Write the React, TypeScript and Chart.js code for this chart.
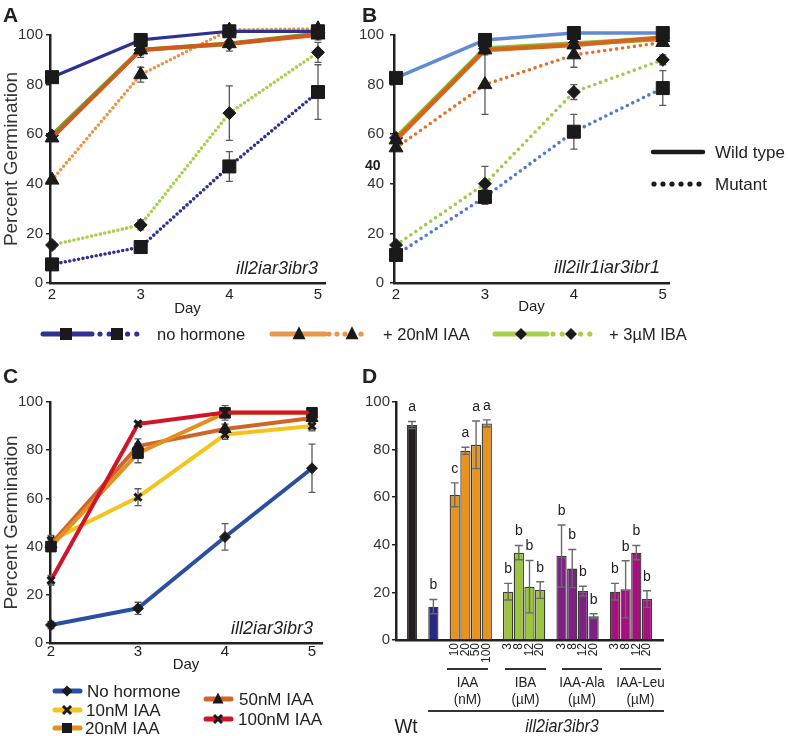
import React, { useEffect, useRef } from 'react';
import { Chart, registerables } from 'chart.js';

Chart.register(...registerables);

const FONT = '"Liberation Sans", Arial, Helvetica, sans-serif';
const INK = '#222';

// ---------- shared ----------
const days = [2, 3, 4, 5];
const dayTicks = [2, 3, 4, 5];
const pctTicks = [0, 20, 40, 60, 80, 100];

// ---------- Panel A : ill2iar3ibr3 ----------
const aNoHormWT = [83, 98, 101.5, 101.5];
const aNoHormMut = [7.5, 14.5, 47, 77];
const aIaaWT = [58.5, 94, 96.5, 100];
const aIaaMut = [41.5, 84, 102, 102.5];
const aIbaWT = [59.5, 94, 96.5, 100.5];
const aIbaMut = [15.3, 23.4, 68.5, 93];
const aNoHormWTErr = [0, 2.5, 0, 0];
const aNoHormMutErr = [1, 2.5, 6, 11];
const aIaaWTErr = [0, 2, 3, 2];
const aIaaMutErr = [0, 3, 0, 0];
const aIbaWTErr = [0, 3, 0, 0];
const aIbaMutErr = [1.5, 2, 11, 4];

// ---------- Panel B : ill2ilr1iar3ibr1 ----------
const bNoHormWT = [82.7, 98, 100.8, 100.8];
const bNoHormMut = [11.3, 34.7, 61, 78.6];
const bIaaWT = [57.7, 94, 96, 99];
const bIaaMut = [54.5, 80, 92, 97];
const bIbaWT = [58.5, 94.5, 96.5, 98.5];
const bIbaMut = [15.3, 40, 77, 90];
const bNoHormWTErr = [0, 1, 0, 0];
const bNoHormMutErr = [0, 3, 7, 7];
const bIaaWTErr = [0, 1, 1.5, 0];
const bIaaMutErr = [0, 12, 5, 1];
const bIbaWTErr = [0, 0, 0, 0];
const bIbaMutErr = [0, 7, 3, 2];

// ---------- Panel C : IAA doses ----------
const cNoHorm = [7.5, 14.4, 44, 72.5];
const c10nM = [42.6, 60.5, 86.5, 90];
const c20nM = [40, 78.8, 95.5, 95.5];
const c50nM = [41, 81.7, 88.8, 93.4];
const c100nM = [26, 90.9, 95.6, 95.6];
const cNoHormErr = [1.5, 2.5, 5.5, 10];
const c10nMErr = [2, 3.5, 2, 2];
const c20nMErr = [2, 4, 3, 1.5];
const c50nMErr = [2, 3, 2, 2];
const c100nMErr = [2, 1, 1, 1];

// ---------- Panel D : bars ----------
const wtValue = 90.3;
const wtErr = 1.5;
const wtLetter = 'a';
const noHormValue = 14;
const noHormErr = 3;
const noHormLetter = 'b';
const iaaDoses = ['10', '20', '50', '100'];
const iaaValues = [61, 79.5, 82, 91];
const iaaErrs = [5, 1.5, 10, 1.5];
const iaaLetters = ['c', 'a', 'a', 'a'];
const ibaDoses = ['3', '8', '12', '20'];
const ibaValues = [20.3, 36.7, 22.4, 21];
const ibaErrs = [3.5, 3, 11, 3.5];
const ibaLetters = ['b', 'b', 'b', 'b'];
const alaDoses = ['3', '8', '12', '20'];
const alaValues = [35.3, 30, 20.6, 10];
const alaErrs = [13, 8, 2, 1];
const alaLetters = ['b', 'b', 'b', 'b'];
const leuDoses = ['3', '8', '12', '20'];
const leuValues = [20.3, 21.3, 36.7, 17.2];
const leuErrs = [3.5, 12, 3, 3.5];
const leuLetters = ['b', 'b', 'b', 'b'];

// ---------- colours ----------
const navy = '#2e3192';
const aOrangeWT = '#d4581c';
const aOrangeMut = '#e8974a';
const aGreenWT = '#6e9e34';
const aGreenMut = '#a9d04c';
const bBlueWT = '#5f8bd4';
const bBlueMut = '#4f7ad0';
const bOrangeWT = '#d4661c';
const bOrangeMut = '#e0702a';
const bGreenWT = '#8dbb3c';
const bGreenMut = '#9ccc4a';
const cBlue = '#2a4ea3';
const cYellow = '#f3c51c';
const cOrange = '#e3901f';
const cDarkOrange = '#d0652a';
const cRed = '#d0152b';
const dBlack = '#231f20';
const dBlue = '#28287f';
const dOrange = '#e8941c';
const dGreen = '#9cc43e';
const dPurple = '#7b2282';
const dMagenta = '#a4117d';

// ---------- plugin: error bars + letters ----------
function drawErrors(chart: any, opts: any) {
  const ctx = chart.ctx;
  const yScale = chart.scales.y;
  chart.data.datasets.forEach((ds: any, i: number) => {
    const meta = chart.getDatasetMeta(i);
    const errs = ds.errors;
    if (!errs) return;
    meta.data.forEach((el: any, j: number) => {
      const parsed: any = meta.controller.getParsed(j);
      const v = parsed ? parsed.y : null;
      if (v == null || isNaN(v)) return;
      const e = errs[j] || 0;
      const x = el.x;
      const top = yScale.getPixelForValue(v + e);
      const bot = yScale.getPixelForValue(v - e);
      if (e > 0) {
        ctx.save();
        ctx.strokeStyle = opts.color;
        ctx.lineWidth = opts.width;
        ctx.beginPath();
        ctx.moveTo(x, top);
        ctx.lineTo(x, bot);
        ctx.moveTo(x - opts.cap, top);
        ctx.lineTo(x + opts.cap, top);
        ctx.moveTo(x - opts.cap, bot);
        ctx.lineTo(x + opts.cap, bot);
        ctx.stroke();
        ctx.restore();
      }
      if (ds.letters && ds.letters[j]) {
        ctx.save();
        ctx.fillStyle = INK;
        ctx.font = `14px ${FONT}`;
        ctx.textAlign = 'center';
        ctx.textBaseline = 'middle';
        ctx.fillText(ds.letters[j], x, top - 14);
        ctx.restore();
      }
    });
  });
}

const errorBarPlugin = {
  id: 'errorBars',
  beforeDatasetsDraw(chart: any, _a: any, opts: any) {
    if (!opts.onTop) drawErrors(chart, opts);
  },
  afterDatasetsDraw(chart: any, _a: any, opts: any) {
    if (opts.onTop) drawErrors(chart, opts);
  },
};

// ---------- helpers ----------
function series(values: number[], errors: number[], color: string, width: number, dash: number[], pointStyle: string, radius: number, pointBorderWidth = 1) {
  return {
    data: days.map((d, i) => ({ x: d, y: values[i] })),
    errors,
    borderColor: color,
    backgroundColor: color,
    borderWidth: width,
    borderDash: dash,
    borderCapStyle: dash.length ? 'round' : 'butt',
    borderJoinStyle: 'round',
    pointStyle,
    pointRadius: radius,
    pointBackgroundColor: '#1a1a1a',
    pointBorderColor: '#1a1a1a',
    pointBorderWidth,
    tension: 0,
    fill: false,
    clip: false,
  };
}

function lineOptions(p: { xMin: number; xMax: number; padTop: number; padRight: number; xAxisH: number; xTickPad: number; dayPadBottom: number; yTickPad: number; yTitle: boolean }) {
  const tickFont = { family: FONT, size: 15 };
  return {
    responsive: false,
    animation: false,
    devicePixelRatio: 1,
    layout: { padding: { top: p.padTop, right: p.padRight, left: 0, bottom: 0 } },
    plugins: {
      legend: { display: false },
      tooltip: { enabled: false },
      errorBars: { color: '#5a5a5a', width: 1.3, cap: 3.5, onTop: false },
    },
    scales: {
      x: {
        type: 'linear',
        min: p.xMin,
        max: p.xMax,
        afterBuildTicks: (s: any) => {
          s.ticks = dayTicks.map((v) => ({ value: v }));
        },
        afterFit: (s: any) => {
          s.height = p.xAxisH;
        },
        ticks: { font: tickFont, color: INK, padding: p.xTickPad },
        grid: { display: false, drawTicks: false },
        border: { display: true, color: INK, width: 2.5 },
        title: { display: true, text: 'Day', font: { family: FONT, size: 15 }, color: INK, padding: { top: 0, bottom: p.dayPadBottom } },
      },
      y: {
        min: 0,
        max: 100,
        afterBuildTicks: (s: any) => {
          s.ticks = pctTicks.map((v) => ({ value: v }));
        },
        afterFit: (s: any) => {
          s.width = 50;
        },
        ticks: { font: tickFont, color: '#333', padding: p.yTickPad },
        grid: { display: true, drawOnChartArea: false, drawTicks: true, tickLength: 4, color: INK, lineWidth: 1.5 },
        border: { display: true, color: INK, width: 2.5 },
        title: { display: p.yTitle, text: 'Percent Germination', font: { family: FONT, size: 19 }, color: '#333', padding: 0 },
      },
    },
  };
}

function ChartBox({ left, top, width, height, make }: { left: number; top: number; width: number; height: number; make: () => any }) {
  const ref = useRef<HTMLCanvasElement>(null);
  useEffect(() => {
    const chart = new Chart(ref.current as HTMLCanvasElement, make());
    return () => chart.destroy();
  }, []);
  return (
    <div style={{ position: 'absolute', left, top, width, height }}>
      <canvas ref={ref} width={width} height={height} style={{ display: 'block', width, height }} />
    </div>
  );
}

// ---------- chart configs ----------
const dotA = [0, 4.5];
const dotB = [0, 6];

function makeA() {
  return {
    type: 'line',
    data: {
      datasets: [
        series(aNoHormWT, aNoHormWTErr, navy, 3.2, [], 'rect', 9.2),
        series(aNoHormMut, aNoHormMutErr, navy, 3.6, dotA, 'rect', 9.2),
        series(aIaaWT, aIaaWTErr, aOrangeWT, 4, [], 'triangle', 8),
        series(aIbaWT, aIbaWTErr, aGreenWT, 4.5, [], 'rectRot', 6.5),
        series(aIaaMut, aIaaMutErr, aOrangeMut, 3.6, dotA, 'triangle', 8),
        series(aIbaMut, aIbaMutErr, aGreenMut, 3.6, dotA, 'rectRot', 6.5),
      ],
    },
    options: lineOptions({ xMin: 1.977, xMax: 5.079, padTop: 15, padRight: 15, xAxisH: 42, xTickPad: 3, dayPadBottom: 7, yTickPad: 3, yTitle: true }),
    plugins: [errorBarPlugin],
  };
}

function makeB() {
  return {
    type: 'line',
    data: {
      datasets: [
        series(bNoHormWT, bNoHormWTErr, bBlueWT, 3.5, [], 'rect', 9.2),
        series(bIaaWT, bIaaWTErr, bOrangeWT, 4.5, [], 'triangle', 8),
        series(bIbaWT, bIbaWTErr, bGreenWT, 5, [], 'rectRot', 6.5),
        series(bNoHormMut, bNoHormMutErr, bBlueMut, 3.6, dotB, 'rect', 9.2),
        series(bIaaMut, bIaaMutErr, bOrangeMut, 3.6, dotB, 'triangle', 8),
        series(bIbaMut, bIbaMutErr, bGreenMut, 3.6, dotB, 'rectRot', 6.5),
      ],
    },
    options: lineOptions({ xMin: 1.977, xMax: 5.07, padTop: 15, padRight: 15, xAxisH: 42, xTickPad: 3, dayPadBottom: 9, yTickPad: 6, yTitle: false }),
    plugins: [errorBarPlugin],
  };
}

function makeC() {
  return {
    type: 'line',
    data: {
      datasets: [
        series(c100nM, c100nMErr, cRed, 4, [], 'crossRot', 5, 3),
        series(c20nM, c20nMErr, cOrange, 4, [], 'rect', 7.5),
        series(c50nM, c50nMErr, cDarkOrange, 4, [], 'triangle', 7),
        series(c10nM, c10nMErr, cYellow, 4, [], 'crossRot', 5, 3),
        series(cNoHorm, cNoHormErr, cBlue, 4, [], 'rectRot', 5.5),
      ],
    },
    options: lineOptions({ xMin: 1.9885, xMax: 5.115, padTop: 17, padRight: 18, xAxisH: 42, xTickPad: 0, dayPadBottom: 11, yTickPad: 3, yTitle: true }),
    plugins: [errorBarPlugin],
  };
}

function makeD() {
  const g: any = null;
  const labels = ['', '', '', '', '', ...iaaDoses, '', ...ibaDoses, '', ...alaDoses, '', ...leuDoses, ''];
  const values = [g, wtValue, g, noHormValue, g, ...iaaValues, g, ...ibaValues, g, ...alaValues, g, ...leuValues, g];
  const errs = [0, wtErr, 0, noHormErr, 0, ...iaaErrs, 0, ...ibaErrs, 0, ...alaErrs, 0, ...leuErrs, 0];
  const letters = ['', wtLetter, '', noHormLetter, '', ...iaaLetters, '', ...ibaLetters, '', ...alaLetters, '', ...leuLetters, ''];
  const rep = (c: string) => [c, c, c, c];
  const colors = ['#fff', dBlack, '#fff', dBlue, '#fff', ...rep(dOrange), '#fff', ...rep(dGreen), '#fff', ...rep(dPurple), '#fff', ...rep(dMagenta), '#fff'];
  return {
    type: 'bar',
    data: {
      labels,
      datasets: [
        {
          data: values,
          errors: errs,
          letters,
          backgroundColor: colors,
          borderColor: '#3a3a3a',
          borderWidth: 1.3,
          barPercentage: 0.96,
          categoryPercentage: 1,
        },
      ],
    },
    options: {
      responsive: false,
      animation: false,
      devicePixelRatio: 1,
      layout: { padding: { top: 17, right: 13, left: 0, bottom: 0 } },
      plugins: {
        legend: { display: false },
        tooltip: { enabled: false },
        errorBars: { color: '#6a6a6a', width: 1.4, cap: 4, onTop: true },
      },
      scales: {
        x: {
          afterFit: (s: any) => {
            s.height = 96;
          },
          ticks: { font: { family: FONT, size: 12 }, color: INK, padding: 3, minRotation: 90, maxRotation: 90, autoSkip: false },
          grid: { display: false, drawTicks: false },
          border: { display: true, color: INK, width: 2.5 },
        },
        y: {
          min: 0,
          max: 100,
          afterBuildTicks: (s: any) => {
            s.ticks = pctTicks.map((v) => ({ value: v }));
          },
          afterFit: (s: any) => {
            s.width = 50;
          },
          ticks: { font: { family: FONT, size: 15 }, color: '#333', padding: 2 },
          grid: { display: true, drawOnChartArea: false, drawTicks: true, tickLength: 4, color: INK, lineWidth: 1.5 },
          border: { display: true, color: INK, width: 2.5 },
        },
      },
    },
    plugins: [errorBarPlugin],
  };
}

// ---------- overlay text / legend ----------
function T({ x, y, size = 16, anchor = 'start', weight = 'normal', italic = false, sx = 1, color = INK, children }: any) {
  return (
    <text
      transform={`translate(${x} ${y}) scale(${sx} 1)`}
      fontSize={size}
      fontFamily={FONT}
      fontWeight={weight}
      fontStyle={italic ? 'italic' : 'normal'}
      textAnchor={anchor}
      dominantBaseline="central"
      fill={color}
    >
      {children}
    </text>
  );
}

function Sq({ x, y, s = 12 }: any) {
  return <rect x={x - s / 2} y={y - s / 2} width={s} height={s} fill="#1a1a1a" />;
}
function Tri({ x, y, s = 13 }: any) {
  return <polygon points={`${x},${y - s * 0.6} ${x - s / 2},${y + s * 0.4} ${x + s / 2},${y + s * 0.4}`} fill="#1a1a1a" />;
}
function Dia({ x, y, s = 6 }: any) {
  return <polygon points={`${x},${y - s} ${x + s},${y} ${x},${y + s} ${x - s},${y}`} fill="#1a1a1a" />;
}
function Xm({ x, y, s = 4.5 }: any) {
  return (
    <g stroke="#1a1a1a" strokeWidth={3}>
      <line x1={x - s} y1={y - s} x2={x + s} y2={y + s} />
      <line x1={x - s} y1={y + s} x2={x + s} y2={y - s} />
    </g>
  );
}

function Dots({ x1, x2, y, color, r = 2.6, step = 8.5 }: any) {
  return <line x1={x1} y1={y} x2={x2} y2={y} stroke={color} strokeWidth={r * 2} strokeLinecap="round" strokeDasharray={`0 ${step}`} />;
}

function Overlay() {
  const ly = 334;
  return (
    <svg width={788} height={736} style={{ position: 'absolute', left: 0, top: 0, pointerEvents: 'none' }}>
      {/* panel letters */}
      <T x={3} y={14} size={21} weight="bold">A</T>
      <T x={362} y={14} size={21} weight="bold">B</T>
      <T x={3} y={375} size={21} weight="bold">C</T>
      <T x={362} y={375} size={21} weight="bold">D</T>

      {/* genotype labels */}
      <T x={318} y={268} size={18} italic anchor="end">ill2iar3ibr3</T>
      <T x={660} y={267} size={18} italic anchor="end">ill2ilr1iar3ibr1</T>
      <T x={313} y={628} size={18} italic anchor="end">ill2iar3ibr3</T>

      {/* stray bold label on B axis */}
      <T x={365} y={165} size={14} weight="bold">40</T>

      {/* B line-type legend */}
      <line x1={653} y1={152} x2={703} y2={152} stroke="#1a1a1a" strokeWidth={4.5} strokeLinecap="round" />
      <T x={715} y={152} size={17}>Wild type</T>
      <Dots x1={654} x2={700} y={184} color="#1a1a1a" r={2.6} step={9} />
      <T x={715} y={184} size={17}>Mutant</T>

      {/* shared A/B legend */}
      <line x1={43} y1={ly} x2={92} y2={ly} stroke={navy} strokeWidth={5} strokeLinecap="round" />
      <Dots x1={100} x2={137} y={ly} color={navy} step={9.2} />
      <Sq x={66} y={ly} />
      <Sq x={117} y={ly} />
      <T x={157} y={ly} size={16.5}>no hormone</T>

      <line x1={272} y1={ly} x2={325} y2={ly} stroke={aOrangeMut} strokeWidth={5} strokeLinecap="round" />
      <Dots x1={329} x2={369} y={ly} color={aOrangeMut} step={8} />
      <Tri x={299} y={ly} />
      <Tri x={352} y={ly} />
      <T x={383} y={ly} size={16.5}>+ 20nM IAA</T>

      <line x1={495} y1={ly} x2={547} y2={ly} stroke={aGreenMut} strokeWidth={5} strokeLinecap="round" />
      <Dots x1={553} x2={590} y={ly} color={aGreenMut} step={9.2} />
      <Dia x={521} y={ly} />
      <Dia x={571} y={ly} />
      <T x={609} y={ly} size={16.5}>+ 3µM IBA</T>

      {/* C legend */}
      <line x1={55} y1={691} x2={80} y2={691} stroke={cBlue} strokeWidth={5} strokeLinecap="round" />
      <Dia x={67} y={691} s={5.5} />
      <T x={87} y={691} size={17}>No hormone</T>
      <line x1={55} y1={710} x2={80} y2={710} stroke={cYellow} strokeWidth={5} strokeLinecap="round" />
      <Xm x={67} y={710} s={4} />
      <T x={86} y={710} size={17}>10nM IAA</T>
      <line x1={55} y1={728} x2={80} y2={728} stroke={cOrange} strokeWidth={5} strokeLinecap="round" />
      <Sq x={67} y={728} s={10} />
      <T x={85} y={728} size={17}>20nM IAA</T>
      <line x1={206} y1={699} x2={231} y2={699} stroke={cDarkOrange} strokeWidth={5} strokeLinecap="round" />
      <Tri x={218} y={699} s={11} />
      <T x={239} y={699} size={17}>50nM IAA</T>
      <line x1={206} y1={719} x2={231} y2={719} stroke={cRed} strokeWidth={5} strokeLinecap="round" />
      <Xm x={218} y={719} s={4} />
      <T x={238} y={719} size={17}>100nM IAA</T>

      {/* D group labels */}
      <g stroke="#333" strokeWidth={2}>
        <line x1={447} y1={669} x2={488} y2={669} />
        <line x1={505} y1={669} x2={546} y2={669} />
        <line x1={562} y1={669} x2={602} y2={669} />
        <line x1={620} y1={669} x2={661} y2={669} />
        <line x1={428} y1={711} x2={664} y2={711} />
      </g>
      <T x={467.5} y={682} size={15} anchor="middle" sx={0.9}>IAA</T>
      <T x={467.5} y={699} size={15} anchor="middle" sx={0.9}>(nM)</T>
      <T x={525.5} y={682} size={15} anchor="middle" sx={0.9}>IBA</T>
      <T x={525.5} y={699} size={15} anchor="middle" sx={0.9}>(µM)</T>
      <T x={582} y={682} size={15} anchor="middle" sx={0.9}>IAA-Ala</T>
      <T x={582} y={699} size={15} anchor="middle" sx={0.9}>(µM)</T>
      <T x={640.5} y={682} size={15} anchor="middle" sx={0.9}>IAA-Leu</T>
      <T x={640.5} y={699} size={15} anchor="middle" sx={0.9}>(µM)</T>
      <T x={406} y={726} size={20} anchor="middle" sx={0.95}>Wt</T>
      <T x={562} y={726} size={19} anchor="middle" italic sx={0.85}>ill2iar3ibr3</T>
    </svg>
  );
}

export default function App() {
  return (
    <div style={{ position: 'absolute', left: 0, top: 0, width: 788, height: 736, background: '#fff', overflow: 'hidden' }}>
      <ChartBox left={0} top={20} width={340} height={305} make={makeA} />
      <ChartBox left={344} top={20} width={340} height={305} make={makeB} />
      <ChartBox left={0} top={385} width={340} height={300} make={makeC} />
      <ChartBox left={346} top={385} width={330} height={351} make={makeD} />
      <Overlay />
    </div>
  );
}
